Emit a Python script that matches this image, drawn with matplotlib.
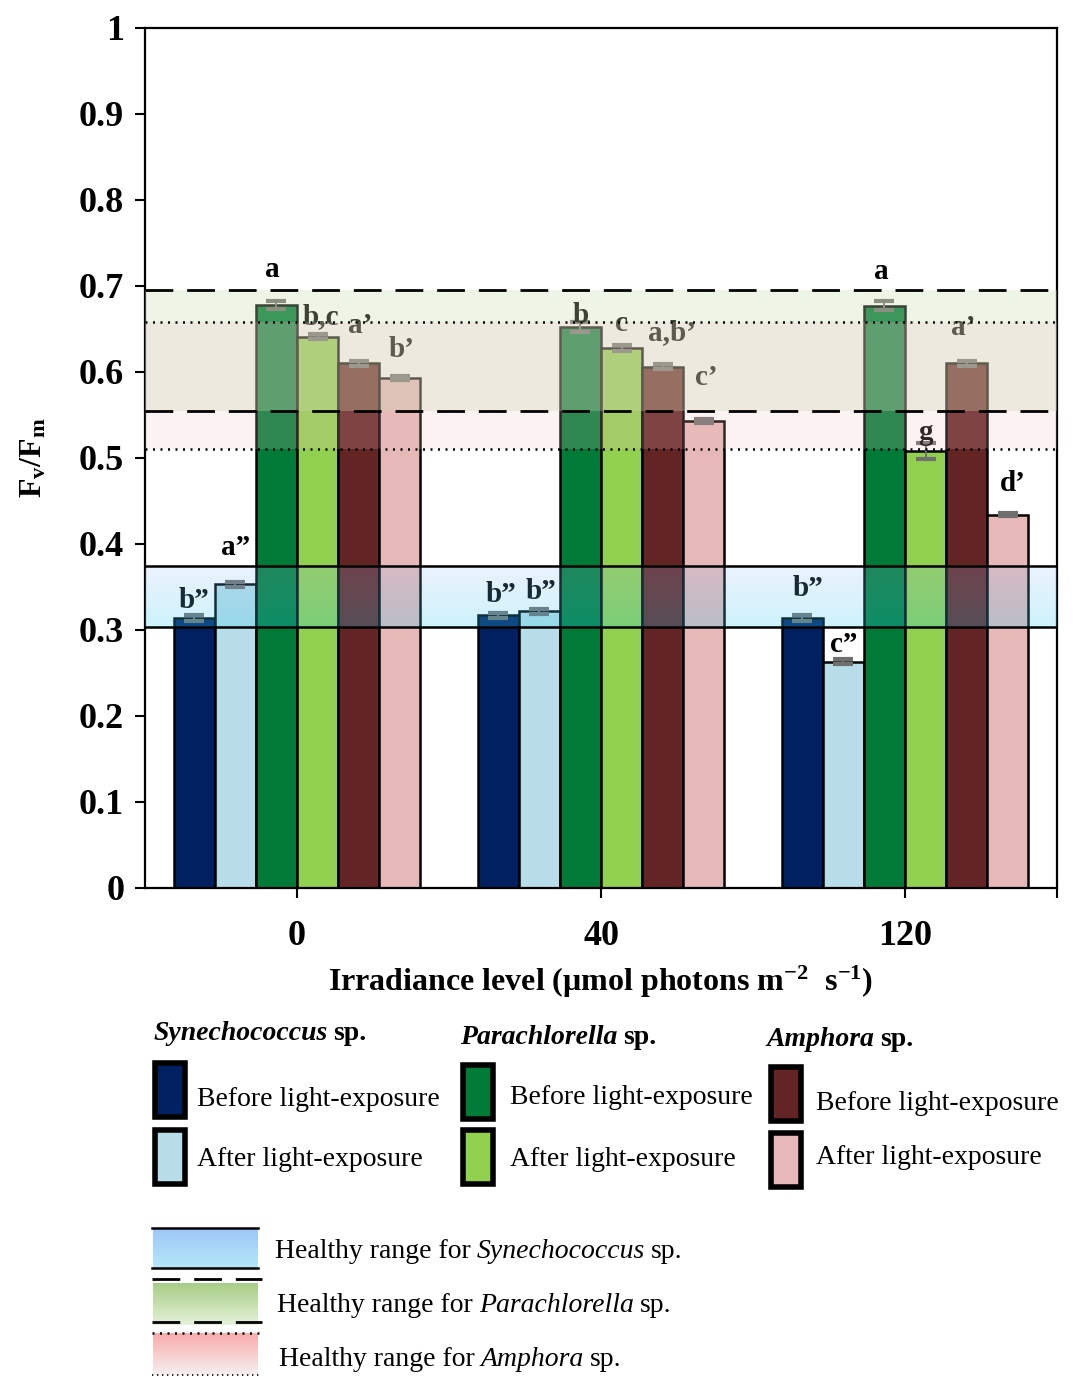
import numpy as np
import matplotlib
matplotlib.use("Agg")
import matplotlib.pyplot as plt
from matplotlib.patches import Rectangle

plt.rcParams['font.family'] = ['Liberation Serif', 'DejaVu Serif']
plt.rcParams['mathtext.fontset'] = 'custom'
plt.rcParams['mathtext.rm'] = 'Liberation Serif:bold'
plt.rcParams['mathtext.it'] = 'Liberation Serif:bold:italic'
plt.rcParams['mathtext.bf'] = 'Liberation Serif:bold'
plt.rcParams['mathtext.default'] = 'bf'

# ---- data ----
irradiance = ['0', '40', '120']
series = ['Syn before', 'Syn after', 'Para before', 'Para after', 'Amph before', 'Amph after']
syn_before = [0.314, 0.317, 0.314]
syn_after = [0.353, 0.322, 0.263]
para_before = [0.678, 0.652, 0.677]
para_after = [0.641, 0.628, 0.508]
amph_before = [0.610, 0.606, 0.610]
amph_after = [0.593, 0.543, 0.434]

syn_err = [[0.003, 0.003, 0.003], [0.003, 0.003, 0.003]]
para_err = [[0.005, 0.006, 0.005], [0.003, 0.003, 0.009]]
amph_err = [[0.003, 0.003, 0.003], [0.002, 0.002, 0.002]]

# significance letters, one row per series, one per irradiance level
letters = [
    ['b\u201d', 'b\u201d', 'b\u201d'],
    ['a\u201d', 'b\u201d', 'c\u201d'],
    ['a', 'b', 'a'],
    ['b,c', 'c', 'g'],
    ['a\u2019', 'a,b\u2019', 'a\u2019'],
    ['b\u2019', 'c\u2019', 'd\u2019'],
]

# healthy Fv/Fm ranges
syn_range = [0.303, 0.374]
para_range = [0.555, 0.695]
amph_range = [0.510, 0.658]

yticks = [0, 0.1, 0.2, 0.3, 0.4, 0.5, 0.6, 0.7, 0.8, 0.9, 1.0]
yticklabels = ['0', '0.1', '0.2', '0.3', '0.4', '0.5', '0.6', '0.7', '0.8', '0.9', '1']

# ---- style ----
colors = ['#002060', '#B7DEE8', '#007A37', '#92D050', '#632523', '#E6B9B8']
# per-label offsets from the bar top (axis units), layout only
label_dy = [
    [0.020, 0.024, 0.034],
    [0.043, 0.023, 0.020],
    [0.041, 0.014, 0.040],
    [0.024, 0.028, 0.022],
    [0.044, 0.040, 0.042],
    [0.033, 0.051, 0.036],
]
label_dx = [
    [0.0, 0.01, 0.02],
    [0.0, 0.005, 0.0],
    [-0.015, 0.0, -0.01],
    [0.01, 0.0, 0.0],
    [0.005, 0.03, -0.01],
    [0.005, 0.01, 0.017],
]

values = [syn_before, syn_after, para_before, para_after, amph_before, amph_after]
errs = [syn_err[0], syn_err[1], para_err[0], para_err[1], amph_err[0], amph_err[1]]

fig = plt.figure(figsize=(10.79, 13.76), dpi=100)
ax = fig.add_axes([145 / 1079, 1 - 888 / 1376, 912 / 1079, 860 / 1376])

x = np.arange(len(irradiance))
w = 0.135
for i, (vals, err) in enumerate(zip(values, errs)):
    pos = x + (i - 2.5) * w
    ax.bar(pos, vals, w, color=colors[i], edgecolor='black', linewidth=1.8, zorder=2)
    ax.errorbar(pos, vals, yerr=err, fmt='none', ecolor='#6F6F6F', elinewidth=1.5,
                capsize=7, capthick=3, zorder=3)
    for j in range(len(irradiance)):
        ax.text(pos[j] + label_dx[i][j], vals[j] + label_dy[i][j], letters[i][j],
                ha='center', va='center', fontsize=21, fontweight='bold', zorder=3)

# healthy range bands (drawn over bars)
ax.axhspan(para_range[0], para_range[1], color=(0.78, 0.86, 0.68), alpha=0.3, lw=0, zorder=4)
ax.axhspan(amph_range[0], amph_range[1], color=(0.93, 0.75, 0.75), alpha=0.2, lw=0, zorder=4)

top_c = np.array([0.60, 0.75, 0.95, 0.20])
bot_c = np.array([0.20, 0.80, 0.95, 0.25])
g = np.linspace(0, 1, 64)[:, None]
grad = (bot_c + (top_c - bot_c) * g).reshape(64, 1, 4)
ax.imshow(grad, extent=(-0.5, 2.5, syn_range[0], syn_range[1]), origin='lower',
          aspect='auto', interpolation='bilinear', zorder=4)

for v in syn_range:
    ax.axhline(v, color='black', lw=1.8, zorder=5)
for v in para_range:
    ax.axhline(v, color='black', lw=2.0, dashes=(10, 5), zorder=5)
for v in amph_range:
    ax.axhline(v, color='black', lw=1.8, linestyle=(0, (0.8, 2.2)), zorder=5)

ax.set_xlim(-0.5, 2.5)
ax.set_ylim(0, 1)
ax.set_yticks(yticks)
ax.set_yticklabels(yticklabels)
ax.set_xticks(x)
ax.set_xticklabels(irradiance)
ax.set_xticks([2.5], minor=True)
ax.tick_params(axis='y', direction='out', length=7, width=1.5, pad=8, labelsize=26)
ax.tick_params(axis='x', which='both', direction='out', length=7, width=1.5, pad=16, labelsize=26)
for lab in ax.get_xticklabels() + ax.get_yticklabels():
    lab.set_fontweight('bold')
for s in ax.spines.values():
    s.set_linewidth(1.6)

ax.set_xlabel(r'Irradiance level ($\mathregular{\mu}$mol photons m$^{-2}$  s$^{-1}$)',
              fontsize=23, fontweight='bold', labelpad=8)
ax.set_ylabel(r'F$_{v}$/F$_{m}$', fontsize=23, fontweight='bold', labelpad=22)

# ---- legend, drawn in pixel coordinates ----
lax = fig.add_axes([0, 0, 1, 1], zorder=-1)
lax.set_xlim(0, 1079)
lax.set_ylim(1376, 0)
lax.axis('off')
renderer = fig.canvas.get_renderer()


def rich_text(xp, yp, pieces, size):
    for s, st in pieces:
        t = lax.text(xp, yp, s, ha='left', va='center', fontsize=size, **st)
        bb = t.get_window_extent(renderer=renderer)
        xp += bb.width + size * 0.3


headers = [('Synechococcus', 153, 1034), ('Parachlorella', 460, 1037), ('Amphora', 766, 1040)]
for name, hx, hy in headers:
    rich_text(hx, hy, [(name, dict(fontweight='bold', fontstyle='italic')),
                       ('sp.', dict(fontweight='bold'))], 20)

boxes = [
    (155, 1063, 1130, 197, 1100, 1160),
    (463, 1065, 1130, 510, 1097, 1160),
    (771, 1067, 1133, 816, 1103, 1157),
]
for k, (bx, by1, by2, tx, ty1, ty2) in enumerate(boxes):
    lax.add_patch(Rectangle((bx, by1), 30, 54, facecolor=colors[2 * k], edgecolor='black', lw=4))
    lax.add_patch(Rectangle((bx, by2), 30, 54, facecolor=colors[2 * k + 1], edgecolor='black', lw=4))
    lax.text(tx, ty1, 'Before light-exposure', ha='left', va='center', fontsize=20)
    lax.text(tx, ty2, 'After light-exposure', ha='left', va='center', fontsize=20)


def grad_box(x0, x1, y0, y1, ctop, cbot):
    gg = np.linspace(0, 1, 32)[:, None]
    a = np.array(matplotlib.colors.to_rgb(ctop))
    b = np.array(matplotlib.colors.to_rgb(cbot))
    arr = (a + (b - a) * gg).reshape(32, 1, 3)
    lax.imshow(arr, extent=(x0, x1, y1, y0), aspect='auto', interpolation='bilinear', zorder=1)


grad_box(153, 258, 1228, 1268, '#9EC6F8', '#B4E8F8')
lax.plot([152, 258], [1228, 1228], color='black', lw=1.8, zorder=2)
lax.plot([152, 258], [1268, 1268], color='black', lw=1.8, zorder=2)
grad_box(153, 258, 1283, 1325, '#A8CE88', '#E4F1D8')
lax.plot([152, 262], [1279, 1279], color='black', lw=2.0, dashes=(10, 5), zorder=2)
lax.plot([152, 262], [1322, 1322], color='black', lw=2.0, dashes=(10, 5), zorder=2)
grad_box(153, 258, 1333, 1375, '#F8ABAB', '#F6EFEF')
lax.plot([152, 260], [1333, 1333], color='black', lw=1.8, linestyle=(0, (0.8, 2.2)), zorder=2)
lax.plot([152, 260], [1375, 1375], color='black', lw=1.2, linestyle=(0, (0.8, 2.2)), zorder=2)
lax.set_xlim(0, 1079)
lax.set_ylim(1376, 0)

healthy = [('Synechococcus', 275, 1251), ('Parachlorella', 277, 1305), ('Amphora', 279, 1360)]
for name, hx, hy in healthy:
    rich_text(hx, hy, [('Healthy range for', {}), (name, dict(fontstyle='italic')),
                       ('sp.', {})], 20)

fig.savefig('out.png', dpi=100)
